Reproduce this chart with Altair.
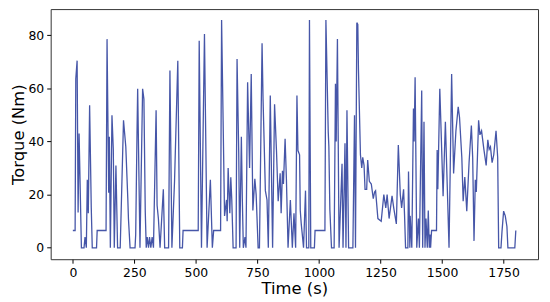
import altair as alt
import pandas as pd

time_s = [0, 9.3, 12, 17.4, 21.4, 25.4, 34.8, 45.5, 49.5, 54.8, 58.8, 62.8, 68.2, 74.9, 78.9,
          96.3, 98.9, 135, 139, 145.7, 148.4, 152.4, 159, 164.4, 168.4, 175.1, 181.8, 192.5,
          205.9, 215.2, 223.3, 225.9, 232.6, 252.7, 255.4, 260.7, 263.4, 272.8, 283.5, 288.8,
          294.2, 298.2, 302.2, 307.5, 311.6, 316.9, 322.2, 327.6, 338.3, 342.3, 347.6, 354.4,
          367.7, 373.1, 389, 394.5, 402.5, 413.2, 426.5, 434.5, 445.2, 447.9, 509.4, 513.4,
          522.7, 534.8, 545.5, 558.8, 566.8, 572.2, 600.3, 604.4, 616.4, 624.4, 627, 631,
          637.8, 641.8, 645.8, 651.2, 663.2, 667.2, 674, 678, 684.7, 688.7, 692.7, 699.4,
          703.4, 710.1, 718.1, 724.8, 731.4, 739.5, 744.8, 752.8, 758.2, 768.8, 772.8, 782.2,
          788.9, 794.2, 802.2, 811.6, 819.6, 827.6, 834.3, 842.3, 846.3, 851.7, 855.7, 862.4,
          867.7, 874.4, 883.8, 891.8, 898.5, 905.2, 910.5, 914.6, 921.2, 924, 928, 933.3,
          937.3, 945.3, 949.4, 958.7, 961.4, 966.7, 981.4, 984.1, 1024.2, 1028.2, 1037.6,
          1040.2, 1044.2, 1050.9, 1061.6, 1067, 1070, 1075, 1081.7, 1093.7, 1097.7, 1105.7,
          1109.7, 1113.7, 1120.4, 1137.8, 1144.4, 1148.4, 1153.8, 1157.8, 1160.4, 1168.5,
          1173.8, 1177.8, 1183.2, 1187.2, 1193.9, 1197.9, 1204.6, 1212.6, 1220.6, 1226,
          1230, 1239.4, 1252.8, 1263.5, 1271.5, 1276.9, 1284.9, 1296.9, 1303.7, 1314.4,
          1322.4, 1330.4, 1335.8, 1343.8, 1347.8, 1351.8, 1361.2, 1363.8, 1369.2, 1370.5,
          1377.2, 1383.9, 1386.6, 1390.6, 1397.3, 1404, 1408, 1417.4, 1421.4, 1426.7, 1430.7,
          1434.8, 1440.1, 1444.1, 1448.1, 1450.8, 1453.5, 1457.5, 1477.5, 1480.2, 1482.9,
          1490.9, 1494.9, 1504.3, 1513.6, 1528.4, 1539, 1547, 1556.4, 1565.7, 1571.1, 1580.4,
          1585.8, 1592.5, 1600.5, 1609.8, 1619.2, 1624.5, 1629.9, 1635.2, 1639.2, 1648.6,
          1653.9, 1660.6, 1670, 1679.3, 1686, 1691.4, 1696.7, 1703.4, 1710.1, 1719.4, 1726.1,
          1730.1, 1739.5, 1743.5, 1750.2, 1756.9, 1763.6, 1767.6, 1795.7, 1799.7]

torque_nm = [6.5, 6.5, 63.6, 70.4, 13.3, 43, 0, 0, 4, 0, 25.6, 13, 53.6, 15, 0,
             0, 6.5, 6.5, 78.5, 20.7, 41.8, 0, 49.9, 37, 0, 31, 0, 0,
             48, 38, 18.6, 11, 0, 0, 5, 43, 59.8, 0, 59.8, 56,
             13.8, 0, 4, 0, 4, 0, 4, 0, 51.7, 16, 11, 0,
             22, 0, 0, 66.7, 0, 25, 70.4, 0, 0, 6.5, 6.5, 77.9,
             0, 80.4, 0, 25.6, 0, 6.5, 6.5, 85.7, 12, 18, 10, 30,
             13, 26.5, 18, 0, 0, 71, 35.7, 0, 41.8, 18, 0, 4,
             0, 62.3, 30, 65.4, 14, 26, 20, 0, 0, 76.9, 56, 21.5,
             18, 0, 57.3, 0, 54, 36, 17.5, 28, 13, 29, 24, 41,
             26, 0, 18, 0, 13, 0, 57.3, 36.6, 35, 14, 9, 4,
             0, 21.5, 0, 0, 85.7, 0, 0, 6.5, 6.5, 85.7, 43.7,
             38, 14.5, 0, 0, 61.7, 40, 78.5, 0, 31.6, 0, 39.3,
             0, 51.7, 0, 0, 49.9, 0, 84.7, 84, 67.3, 35,
             30, 34, 31, 22, 22, 33, 25, 24, 18.5, 21,
             21.5, 11, 10, 20, 15, 20, 11, 19.5, 15, 9,
             38.7, 20, 15, 22, 12, 0, 0, 28.7, 0, 12,
             0, 52.4, 40, 64.2, 0, 11, 0, 59.2, 0, 47.4, 0,
             11, 0, 14, 0, 5, 0, 6.5, 6.5, 36.8, 22,
             59.8, 48, 19.4, 47.4, 0, 65.4, 28, 44, 53, 49, 34,
             17.5, 26.6, 13.8, 32, 46, 34, 2.6, 25.6, 21, 48,
             42.5, 44, 37, 31, 40.6, 37, 38, 32, 35, 44, 34,
             0, 0, 6, 13.8, 12, 8, 0, 0, 6.5]

x_ticks = [0, 250, 500, 750, 1000, 1250, 1500, 1750]
y_ticks = [0, 20, 40, 60, 80]

df = pd.DataFrame({"t": time_s, "v": torque_nm})

axis_style = dict(grid=False, tickSize=4, labelFontSize=12.5, titleFontSize=16.5,
                  titleFontWeight="normal", labelColor="black", titleColor="black",
                  tickColor="black", domain=False, labelPadding=3, format="d",
                  labelFont="DejaVu Sans", titleFont="DejaVu Sans")

chart = alt.Chart(df).mark_line(color="#4656a8", strokeWidth=1.3).encode(
    x=alt.X("t:Q", title="Time (s)",
            scale=alt.Scale(domain=[-90, 1890], nice=False, zero=False),
            axis=alt.Axis(values=x_ticks, titlePadding=2, **axis_style)),
    y=alt.Y("v:Q", title="Torque (Nm)",
            scale=alt.Scale(domain=[-4.3, 89.8], nice=False, zero=False),
            axis=alt.Axis(values=y_ticks, titlePadding=1, **axis_style)),
).properties(
    width=491, height=252,
    autosize=alt.AutoSizeParams(type="none"),
    padding={"left": 43, "top": 0, "right": 4, "bottom": 42},
).configure_view(stroke="#333333", strokeWidth=1)

chart.save("out.html", embed_options={"renderer": "svg", "actions": False})
